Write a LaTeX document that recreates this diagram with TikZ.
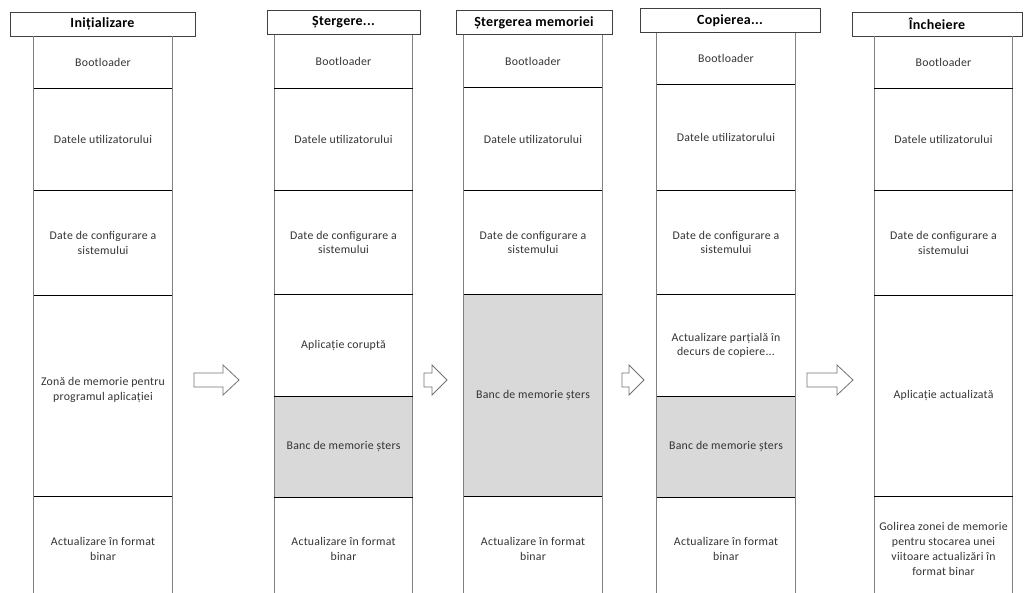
\documentclass[tikz,border=0pt]{standalone}
\usepackage{fontspec}
\setmainfont{Carlito}[LetterSpace=2]
\usetikzlibrary{positioning}

\begin{document}
\begin{tikzpicture}[x=1pt,y=-1pt,font=\fontsize{11.8}{14.8}\selectfont,
head/.style={draw=black!75,line width=0.9pt,fill=white,minimum height=24pt,inner sep=0pt,font=\fontsize{14}{16}\selectfont\bfseries},
cell/.style={minimum width=138pt,align=center,inner sep=0pt,text=black!80},
erased/.style={cell,fill=black!15},
side/.style={draw=black!50,line width=1.2pt},
sep/.style={black,line width=0.7pt},
blk/.style={draw=black!55,fill=white,line width=0.8pt}]
\useasboundingbox (0,0) rectangle (1024,593);
% column 1
\node[head,minimum width=185pt] (h1) at (102.5,24) {Inițializare};
\node[cell,minimum height=52pt,anchor=north] (b1) at (103,36) {Bootloader};
\node[cell,minimum height=102pt,below=0pt of b1] (u1) {Datele utilizatorului};
\node[cell,minimum height=104pt,below=0pt of u1] (s1) {Date de configurare a\\sistemului};
\node[cell,minimum height=201pt,below=0pt of s1] (z1) {};
\node[cell] (z1t) at ([yshift=6pt]z1.center) {Zonă de memorie pentru\\programul aplicației};
\node[cell,minimum height=104pt,below=0pt of z1] (a1) {Actualizare în format\\binar};
% column 2
\node[head,minimum width=153pt] (h2) at (343.5,22.5) {Ștergere...};
\node[cell,minimum height=53pt,anchor=north] (b2) at (343.5,35) {Bootloader};
\node[cell,minimum height=102pt,below=0pt of b2] (u2) {Datele utilizatorului};
\node[cell,minimum height=103pt,below=0pt of u2] (s2) {Date de configurare a\\sistemului};
\node[cell,minimum height=102pt,below=0pt of s2] (c2) {Aplicație coruptă};
\node[erased,minimum height=100pt,below=0pt of c2] (e2) {Banc de memorie șters};
\node[cell,minimum height=104pt,below=0pt of e2] (a2) {Actualizare în format\\binar};
% column 3
\node[head,minimum width=156pt] (h3) at (534,22.5) {Ștergerea memoriei};
\node[cell,minimum height=52pt,anchor=north] (b3) at (533,35) {Bootloader};
\node[cell,minimum height=103pt,below=0pt of b3] (u3) {Datele utilizatorului};
\node[cell,minimum height=103pt,below=0pt of u3] (s3) {Date de configurare a\\sistemului};
\node[erased,minimum height=202pt,below=0pt of s3] (e3) {Banc de memorie șters};
\node[cell,minimum height=104pt,below=0pt of e3] (a3) {Actualizare în format\\binar};
% column 4
\node[head,minimum width=180pt] (h4) at (730,20.5) {Copierea...};
\node[cell,minimum height=51pt,anchor=north] (b4) at (726,33) {Bootloader};
\node[cell,minimum height=106pt,below=0pt of b4] (u4) {Datele utilizatorului};
\node[cell,minimum height=103pt,below=0pt of u4] (s4) {Date de configurare a\\sistemului};
\node[cell,minimum height=102pt,below=0pt of s4] (p4) {Actualizare parțială în\\decurs de copiere...};
\node[erased,minimum height=100pt,below=0pt of p4] (e4) {Banc de memorie șters};
\node[cell,minimum height=104pt,below=0pt of e4] (a4) {Actualizare în format\\binar};
% column 5
\node[head,minimum width=170pt] (h5) at (937,24) {Încheiere};
\node[cell,minimum height=52pt,anchor=north] (b5) at (943.5,36) {Bootloader};
\node[cell,minimum height=102pt,below=0pt of b5] (u5) {Datele utilizatorului};
\node[cell,minimum height=104pt,below=0pt of u5] (s5) {Date de configurare a\\sistemului};
\node[cell,minimum height=201pt,below=0pt of s5] (n5) {Aplicație actualizată};
\node[cell,minimum height=104pt,below=0pt of n5] (g5) {Golirea zonei de memorie\\pentru stocarea unei\\viitoare actualizări în\\format binar};
% sides and row lines
\foreach \t/\b in {b1/a1,b2/a2,b3/a3,b4/a4,b5/g5}{
  \draw[side] (\t.north west) -- (\b.south west);
  \draw[side] (\t.north east) -- (\b.south east);}
\foreach \c in {b1,u1,s1,z1,b2,u2,s2,c2,e2,b3,u3,s3,e3,b4,u4,s4,p4,e4,b5,u5,s5,n5}
  \draw[sep] (\c.south west) -- (\c.south east);
% block arrows between the steps
\draw[blk] (194,373) -- (223,373) -- (223,365) -- (239,380) -- (223,395) -- (223,387) -- (194,387) -- cycle;
\draw[blk] (424,373) -- (432,373) -- (432,365) -- (447,380) -- (432,395) -- (432,387) -- (424,387) -- cycle;
\draw[blk] (622,373) -- (629,373) -- (629,365) -- (644,380) -- (629,395) -- (629,387) -- (622,387) -- cycle;
\draw[blk] (807,373) -- (837,373) -- (837,365) -- (853,380) -- (837,395) -- (837,387) -- (807,387) -- cycle;
\end{tikzpicture}
\end{document}
